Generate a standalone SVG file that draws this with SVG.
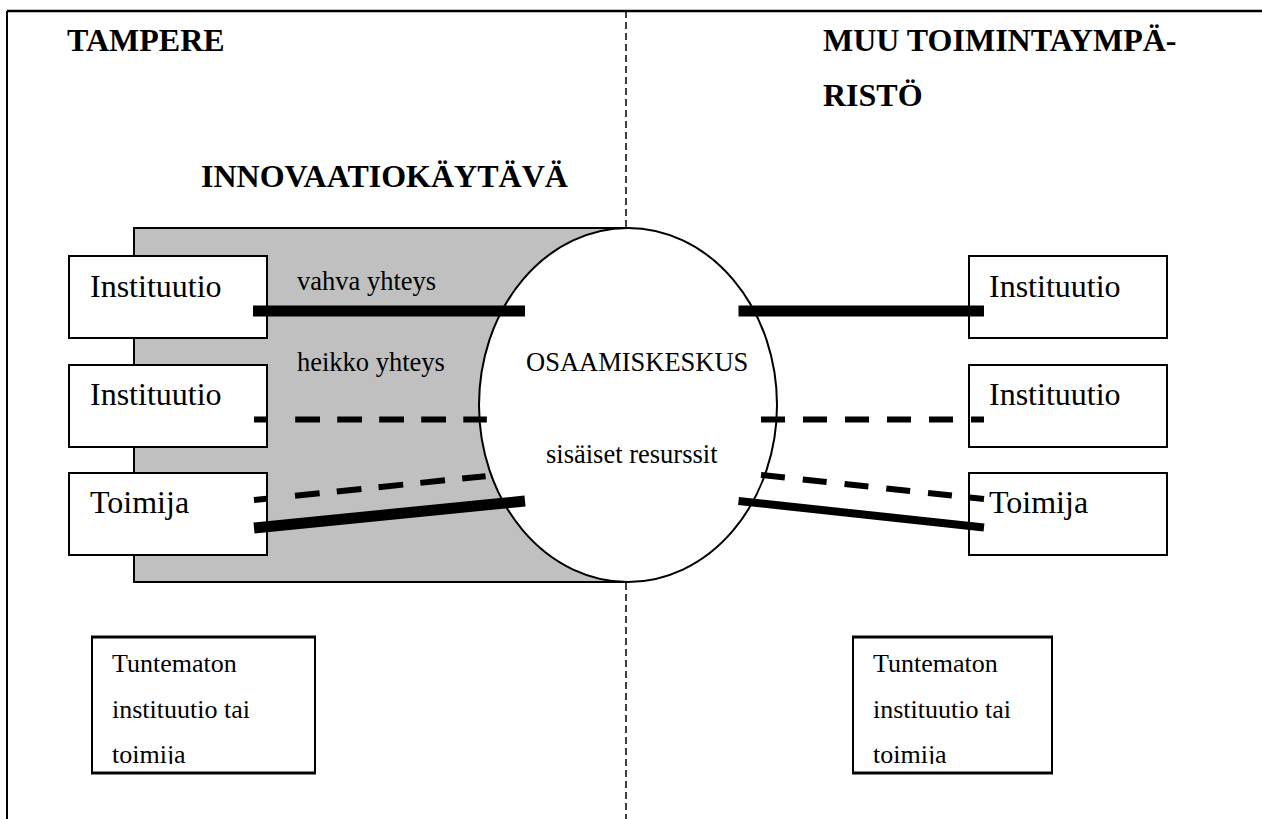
<svg xmlns="http://www.w3.org/2000/svg" width="1262" height="819" viewBox="0 0 1262 819">
<style>
  .title { font-family: "Liberation Serif", "Times New Roman", serif; font-weight: bold; font-size: 32px; fill: #000; }
  .big { font-family: "Liberation Serif", "Times New Roman", serif; font-size: 32px; fill: #000; }
  .lbl { font-family: "Liberation Serif", "Times New Roman", serif; font-size: 26.5px; fill: #000; }
  .small { font-family: "Liberation Serif", "Times New Roman", serif; font-size: 26px; fill: #000; }
  .box { fill: #fff; stroke: #000; stroke-width: 2; }
  .edge { stroke: #000; stroke-width: 3; }
  .strong { stroke: #000; stroke-width: 11; fill: none; }
  .weak { stroke: #000; stroke-width: 6; fill: none; }
  .weakL { stroke-dasharray: 12.6 28.6 24.8 17.2 24.8 17.2 24.8 17.2 24.8 17.3 23.5 100; }
  .weakR { stroke-dasharray: 24 18; }
</style>
<defs>
  <clipPath id="clipL"><rect x="92" y="637" width="223" height="127"/></clipPath>
  <clipPath id="clipR"><rect x="853" y="637" width="199" height="127"/></clipPath>
</defs>

<g id="frame">
  <line x1="7" y1="11" x2="1262" y2="11" stroke="#000" stroke-width="2.5"/>
  <line x1="7" y1="11" x2="7" y2="819" stroke="#000" stroke-width="2"/>
  <line x1="626" y1="11" x2="626" y2="819" stroke="#000" stroke-width="1.5" stroke-dasharray="7 4"/>
</g>

<g id="titles">
  <text class="title" x="67" y="51">TAMPERE</text>
  <text class="title" x="823" y="51">MUU TOIMINTAYMPÄ-</text>
  <text class="title" x="823" y="106">RISTÖ</text>
  <text class="title" x="201" y="187">INNOVAATIOKÄYTÄVÄ</text>
</g>

<g id="innovaatiokaytava">
  <rect x="134" y="228" width="494" height="354" fill="#c0c0c0" stroke="#000" stroke-width="2"/>
  <text class="lbl" x="297" y="290">vahva yhteys</text>
  <text class="lbl" x="297" y="371">heikko yhteys</text>
</g>

<g id="osaamiskeskus">
  <ellipse cx="628" cy="405" rx="149" ry="177" fill="#fff" stroke="#000" stroke-width="2"/>
  <text class="lbl" x="526" y="371">OSAAMISKESKUS</text>
  <text class="lbl" x="546" y="463">sisäiset resurssit</text>
</g>

<g id="left-instituutio-1">
  <rect class="box" x="69" y="256" width="198" height="82"/>
  <text class="big" x="90" y="297">Instituutio</text>
</g>
<g id="left-instituutio-2">
  <rect class="box" x="69" y="365" width="198" height="82"/>
  <text class="big" x="90" y="405">Instituutio</text>
</g>
<g id="left-toimija">
  <rect class="box" x="69" y="473" width="198" height="82"/>
  <text class="big" x="90" y="513">Toimija</text>
</g>

<g id="right-instituutio-1">
  <rect class="box" x="969" y="256" width="198" height="82"/>
  <text class="big" x="989" y="297">Instituutio</text>
</g>
<g id="right-instituutio-2">
  <rect class="box" x="969" y="365" width="198" height="82"/>
  <text class="big" x="989" y="405">Instituutio</text>
</g>
<g id="right-toimija">
  <rect class="box" x="969" y="473" width="198" height="82"/>
  <text class="big" x="989" y="513">Toimija</text>
</g>

<g id="left-tuntematon">
  <rect class="box" x="92" y="637" width="223" height="136"/>
  <line class="edge" x1="91" y1="637" x2="316" y2="637"/>
  <line class="edge" x1="91" y1="773" x2="316" y2="773"/>
  <g clip-path="url(#clipL)">
    <text class="small" x="112" y="672">Tuntematon</text>
    <text class="small" x="112" y="718">instituutio tai</text>
    <text class="small" x="112" y="763">toimija</text>
  </g>
</g>
<g id="right-tuntematon">
  <rect class="box" x="853" y="637" width="199" height="136"/>
  <line class="edge" x1="852" y1="637" x2="1053" y2="637"/>
  <line class="edge" x1="852" y1="773" x2="1053" y2="773"/>
  <g clip-path="url(#clipR)">
    <text class="small" x="873" y="672">Tuntematon</text>
    <text class="small" x="873" y="718">instituutio tai</text>
    <text class="small" x="873" y="763">toimija</text>
  </g>
</g>

<g id="connectors">
  <path class="strong" d="M253,311 L525,311"/>
  <path class="weak weakL" d="M254,419.5 L487,419.5"/>
  <path class="weak weakL" d="M254,500 L487,476"/>
  <path class="strong" stroke-width="11.5" d="M254,528 L525,501"/>
  <path class="strong" d="M738.5,311 L984,311"/>
  <path class="weak weakR" d="M761,419.5 L984,419.5"/>
  <path class="weak weakR" d="M761,475 L984,499"/>
  <path class="strong" style="stroke-width:8" d="M738.5,501 L984,527.5"/>
</g>
</svg>
